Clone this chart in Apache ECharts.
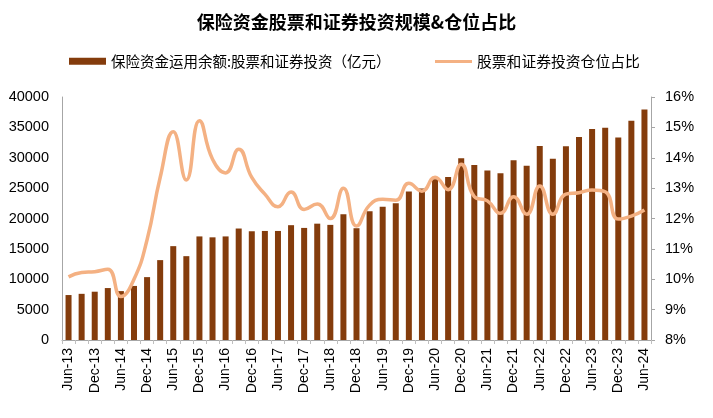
<!DOCTYPE html>
<html>
<head>
<meta charset="utf-8">
<script src="https://cdn.jsdelivr.net/npm/echarts@6/dist/echarts.min.js"></script>
<style>
html,body{margin:0;padding:0;background:#fff;}
#chart{width:713px;height:418px;}
</style>
</head>
<body>
<div id="chart"></div>
<script>
const categories = ['Jun-13','Sep-13','Dec-13','Mar-14','Jun-14','Sep-14','Dec-14','Mar-15','Jun-15','Sep-15','Dec-15','Mar-16','Jun-16','Sep-16','Dec-16','Mar-17','Jun-17','Sep-17','Dec-17','Mar-18','Jun-18','Sep-18','Dec-18','Mar-19','Jun-19','Sep-19','Dec-19','Mar-20','Jun-20','Sep-20','Dec-20','Mar-21','Jun-21','Sep-21','Dec-21','Mar-22','Jun-22','Sep-22','Dec-22','Mar-23','Jun-23','Sep-23','Dec-23','Mar-24','Jun-24'];
const investAmount = [7400,7600,7950,8550,8050,8900,10350,13150,15450,13800,17050,16900,17050,18350,17900,17950,17950,18900,18450,19150,18950,20700,18400,21200,21950,22500,24450,24950,26450,26850,29900,28800,27900,27450,29600,28700,31950,29850,31900,33400,34750,34950,33350,36100,37950];
const positionRatio = [10.08,10.22,10.25,10.33,9.43,10.0,11.3,13.35,14.86,13.27,15.22,13.95,13.5,14.28,13.35,12.8,12.39,12.87,12.3,12.48,12.0,13.0,11.75,12.44,12.63,12.6,13.16,12.9,13.36,12.95,13.79,12.72,12.58,12.17,12.72,12.14,13.07,12.14,12.8,12.85,12.94,12.88,11.98,12.08,12.28];
const titleText = '保险资金股票和证券投资规模&仓位占比';
const barName = '保险资金运用余额:股票和证券投资（亿元）';
const lineName = '股票和证券投资仓位占比';

const FONT = '"Liberation Sans", Arial, "Noto Sans CJK SC", sans-serif';
const CJK = '"Noto Sans CJK SC", sans-serif';
const chart = echarts.init(document.getElementById('chart'), null, {renderer:'canvas'});
chart.setOption({
  animation: false,
  backgroundColor: '#fff',
  title: {
    text: titleText, left: 'center', top: 8,
    textStyle: {fontSize: 18, fontWeight: 'bold', color: '#000', fontFamily: CJK}
  },
  legend: [
    {left: 69, top: 54, padding: 0, itemWidth: 37, itemHeight: 7, itemGap: 0,
     textStyle: {fontSize: 14.5, color: '#000', fontFamily: CJK},
     data: [{name: barName, icon: 'rect'}]},
    {left: 435, top: 54, padding: 0, itemWidth: 37, itemHeight: 3, itemGap: 0,
     textStyle: {fontSize: 14.8, color: '#000', fontFamily: CJK},
     data: [{name: lineName, icon: 'rect'}]}
  ],
  grid: {left: 62, right: 62, top: 97, bottom: 78, containLabel: false},
  xAxis: {
    type: 'category', data: categories, boundaryGap: true,
    axisLine: {lineStyle: {color: '#A6A6A6', width: 1}},
    axisTick: {show: true, interval: 0, length: 4, lineStyle: {color: '#BFBFBF'}},
    axisLabel: {interval: 1, rotate: 90, margin: 8, fontSize: 14, color: '#000', fontFamily: FONT}
  },
  yAxis: [
    {type: 'value', min: 0, max: 40000, interval: 5000,
     axisLine: {show: true, lineStyle: {color: '#A6A6A6'}},
     axisTick: {show: false}, splitLine: {show: false},
     axisLabel: {margin: 13, fontSize: 14.5, color: '#000', fontFamily: FONT,
                 formatter: function (v) { return String(v); }}},
    {type: 'value', min: 8, max: 16, interval: 1, position: 'right',
     axisLine: {show: true, lineStyle: {color: '#A6A6A6'}},
     axisTick: {show: true, length: 4, lineStyle: {color: '#A6A6A6'}}, splitLine: {show: false},
     axisLabel: {margin: 14, fontSize: 14.5, color: '#000', fontFamily: FONT, formatter: '{value}%'}}
  ],
  series: [
    {name: barName, type: 'bar', yAxisIndex: 0, data: investAmount, barWidth: 6,
     itemStyle: {color: '#843C0C'}},
    {name: lineName, type: 'line', yAxisIndex: 1, data: positionRatio, smooth: 0.5,
     symbol: 'none', lineStyle: {color: '#F4B183', width: 3.5}, itemStyle: {color: '#F4B183'}}
  ]
});
</script>
</body>
</html>
